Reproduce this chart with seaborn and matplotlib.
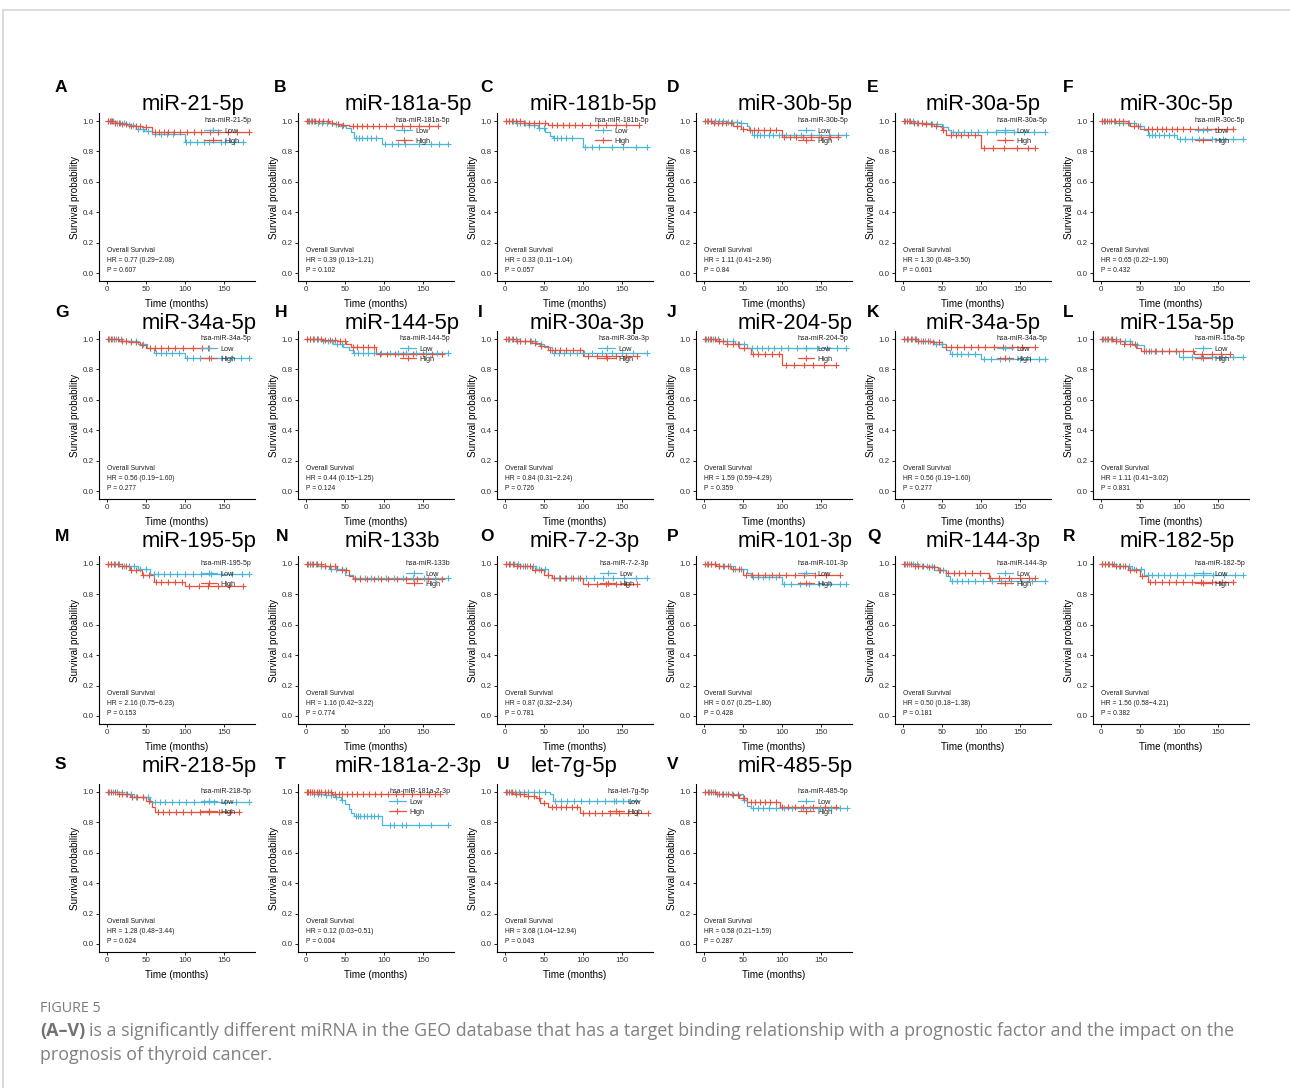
import numpy as np
import pandas as pd
import matplotlib
matplotlib.use("Agg")
import matplotlib.pyplot as plt
from matplotlib.lines import Line2D
import seaborn as sns

sns.set_theme(style="ticks")
plt.rcParams["font.family"] = ["Liberation Sans", "DejaVu Sans"]

# ---- panel content -------------------------------------------------------
panel_letters = list("ABCDEFGHIJKLMNOPQRSTUV")
mirna_titles = ["miR-21-5p", "miR-181a-5p", "miR-181b-5p", "miR-30b-5p", "miR-30a-5p", "miR-30c-5p",
                "miR-34a-5p", "miR-144-5p", "miR-30a-3p", "miR-204-5p", "miR-34a-5p", "miR-15a-5p",
                "miR-195-5p", "miR-133b", "miR-7-2-3p", "miR-101-3p", "miR-144-3p", "miR-182-5p",
                "miR-218-5p", "miR-181a-2-3p", "let-7g-5p", "miR-485-5p"]
legend_titles = ["hsa-miR-21-5p", "hsa-miR-181a-5p", "hsa-miR-181b-5p", "hsa-miR-30b-5p", "hsa-miR-30a-5p",
                 "hsa-miR-30c-5p", "hsa-miR-34a-5p", "hsa-miR-144-5p", "hsa-miR-30a-3p", "hsa-miR-204-5p",
                 "hsa-miR-34a-5p", "hsa-miR-15a-5p", "hsa-miR-195-5p", "hsa-miR-133b", "hsa-miR-7-2-3p",
                 "hsa-miR-101-3p", "hsa-miR-144-3p", "hsa-miR-182-5p", "hsa-miR-218-5p", "hsa-miR-181a-2-3p",
                 "hsa-let-7g-5p", "hsa-miR-485-5p"]
hr_est = ["0.77", "0.39", "0.33", "1.11", "1.30", "0.65", "0.56", "0.44", "0.84", "1.59", "0.56", "1.11",
          "2.16", "1.16", "0.87", "0.67", "0.50", "1.56", "1.28", "0.12", "3.68", "0.58"]
hr_low = ["0.29", "0.13", "0.11", "0.41", "0.48", "0.22", "0.19", "0.15", "0.31", "0.59", "0.19", "0.41",
          "0.75", "0.42", "0.32", "0.25", "0.18", "0.58", "0.48", "0.03", "1.04", "0.21"]
hr_high = ["2.08", "1.21", "1.04", "2.96", "3.50", "1.90", "1.60", "1.25", "2.24", "4.29", "1.60", "3.02",
           "6.23", "3.22", "2.34", "1.80", "1.38", "4.21", "3.44", "0.51", "12.94", "1.59"]
p_values = ["0.607", "0.102", "0.057", "0.84", "0.601", "0.432", "0.277", "0.124", "0.726", "0.359", "0.277",
            "0.831", "0.153", "0.774", "0.781", "0.428", "0.181", "0.382", "0.624", "0.004", "0.043", "0.287"]

# Kaplan-Meier step points (time in months, survival probability)
low_times = [[0, 12, 25, 38, 48, 58, 100, 174], [0, 15, 35, 42, 52, 58, 62, 98, 182],
             [0, 15, 30, 42, 52, 58, 62, 100, 182], [0, 30, 45, 55, 58, 62, 182],
             [0, 15, 35, 50, 58, 62, 182], [0, 20, 45, 55, 60, 98, 182],
             [0, 20, 40, 52, 60, 100, 182], [0, 20, 35, 48, 55, 60, 182],
             [0, 20, 40, 50, 60, 182], [0, 20, 40, 55, 182],
             [0, 20, 40, 55, 60, 100, 182], [0, 20, 40, 55, 100, 182],
             [0, 20, 40, 55, 182], [0, 15, 30, 50, 60, 182],
             [0, 20, 40, 55, 60, 182], [0, 20, 40, 55, 60, 100, 182],
             [0, 20, 40, 55, 60, 182], [0, 20, 40, 55, 182],
             [0, 20, 35, 55, 182], [0, 10, 25, 35, 45, 50, 55, 58, 62, 98, 182],
             [0, 58, 62, 168], [0, 15, 40, 50, 55, 60, 183]]
low_surv = [[1, .99, .975, .95, .935, .915, .86, .86], [1, .99, .98, .97, .955, .93, .89, .85, .85],
            [1, .99, .975, .955, .93, .90, .89, .83, .83], [1, .995, .985, .97, .94, .905, .905],
            [1, .99, .98, .96, .94, .93, .93], [1, .985, .97, .94, .91, .88, .88],
            [1, .99, .97, .94, .91, .875, .875], [1, .99, .97, .95, .93, .91, .91],
            [1, .99, .97, .95, .91, .91], [1, .99, .97, .94, .94],
            [1, .99, .97, .93, .90, .87, .87], [1, .99, .96, .92, .88, .88],
            [1, .99, .97, .935, .935], [1, .99, .97, .93, .91, .91],
            [1, .99, .97, .93, .905, .905], [1, .99, .97, .94, .915, .87, .87],
            [1, .99, .96, .92, .885, .885], [1, .99, .97, .93, .93],
            [1, .99, .97, .935, .935], [1, .99, .98, .97, .95, .92, .89, .86, .84, .78, .78],
            [1, .985, .94, .94], [1, .99, .985, .95, .91, .895, .895]]
high_times = [[0, 8, 18, 30, 45, 58, 182], [0, 30, 38, 48, 56, 170],
              [0, 25, 40, 55, 172], [0, 10, 30, 38, 48, 55, 100, 172],
              [0, 10, 25, 40, 50, 56, 100, 170], [0, 35, 38, 50, 170],
              [0, 15, 30, 42, 50, 130], [0, 20, 40, 52, 58, 90, 175],
              [0, 15, 35, 45, 55, 100, 170], [0, 15, 30, 45, 60, 100, 170],
              [0, 20, 35, 50, 170], [0, 15, 30, 45, 52, 120, 165],
              [0, 15, 30, 45, 60, 100, 175], [0, 20, 40, 55, 60, 175],
              [0, 15, 35, 50, 60, 100, 170], [0, 15, 35, 50, 175],
              [0, 15, 30, 45, 55, 110, 170], [0, 15, 35, 50, 60, 170],
              [0, 15, 30, 50, 58, 62, 170], [0, 33, 172],
              [0, 10, 25, 40, 45, 55, 97, 183], [0, 15, 35, 45, 55, 98, 170]]
high_surv = [[1, .99, .98, .97, .96, .93, .93], [1, .99, .98, .975, .965, .965],
             [1, .99, .985, .975, .975], [1, .99, .985, .97, .95, .94, .895, .895],
             [1, .99, .98, .965, .94, .91, .82, .82], [1, .99, .97, .95, .95],
             [1, .99, .98, .96, .94, .94], [1, .995, .985, .97, .95, .90, .90],
             [1, .99, .975, .955, .93, .89, .89], [1, .99, .97, .94, .90, .83, .83],
             [1, .99, .98, .95, .95], [1, .99, .97, .94, .92, .90, .90],
             [1, .99, .96, .93, .88, .855, .855], [1, .99, .96, .92, .90, .90],
             [1, .99, .96, .93, .91, .87, .87], [1, .99, .97, .93, .93],
             [1, .99, .98, .96, .94, .905, .905], [1, .99, .96, .92, .88, .88],
             [1, .99, .97, .94, .90, .87, .87], [1, .985, .985],
             [1, .99, .975, .96, .93, .90, .863, .863], [1, .99, .98, .96, .937, .90, .90]]

# censoring times (months)
low_censor = [
    [2, 5, 8, 13, 17, 22, 28, 33, 40, 46, 53, 62, 69, 77, 85, 101, 107, 115, 124, 131, 146, 152, 163, 174],
    [3, 7, 11, 16, 21, 27, 33, 39, 46, 64, 68, 72, 78, 83, 90, 101, 110, 118, 127, 145, 160, 171, 182],
    [2, 6, 10, 15, 20, 26, 31, 37, 44, 50, 63, 67, 72, 78, 86, 103, 112, 121, 137, 151, 168, 182],
    [4, 9, 14, 19, 25, 31, 36, 42, 48, 64, 68, 72, 77, 83, 89, 96, 106, 116, 125, 138, 148, 160, 172, 182],
    [3, 8, 13, 18, 24, 30, 37, 44, 51, 64, 71, 79, 88, 97, 108, 120, 131, 142, 155, 168, 182],
    [2, 6, 11, 17, 23, 29, 36, 43, 50, 62, 66, 70, 75, 81, 87, 94, 102, 108, 117, 126, 142, 157, 170, 182],
    [3, 7, 12, 18, 24, 31, 38, 46, 63, 69, 76, 84, 93, 103, 111, 120, 134, 148, 160, 172, 182],
    [2, 6, 11, 16, 22, 28, 33, 40, 46, 62, 67, 73, 80, 88, 97, 108, 118, 129, 141, 154, 168, 182],
    [4, 9, 14, 20, 26, 33, 39, 46, 63, 69, 76, 83, 92, 101, 112, 124, 137, 150, 165, 182],
    [3, 8, 12, 18, 24, 30, 37, 45, 52, 62, 68, 75, 82, 90, 99, 108, 119, 131, 145, 158, 171, 182],
    [2, 7, 12, 17, 23, 29, 35, 43, 50, 63, 69, 75, 83, 92, 104, 113, 124, 136, 150, 163, 175, 182],
    [3, 8, 13, 19, 25, 31, 38, 47, 58, 64, 71, 79, 88, 97, 106, 117, 129, 142, 155, 169, 182],
    [2, 6, 11, 16, 22, 28, 35, 42, 50, 60, 66, 73, 81, 90, 100, 110, 121, 133, 147, 160, 173, 182],
    [3, 8, 13, 19, 25, 32, 39, 46, 63, 69, 76, 84, 93, 103, 113, 124, 137, 151, 166, 182],
    [2, 7, 12, 17, 23, 29, 36, 44, 51, 63, 70, 77, 85, 94, 104, 115, 126, 139, 153, 168, 182],
    [4, 9, 14, 20, 26, 33, 40, 48, 63, 69, 76, 84, 93, 103, 112, 123, 135, 148, 162, 175, 182],
    [3, 8, 13, 18, 24, 31, 38, 46, 52, 63, 69, 76, 84, 93, 103, 114, 126, 139, 152, 166, 182],
    [2, 6, 11, 17, 23, 29, 36, 43, 51, 60, 66, 73, 81, 89, 98, 108, 119, 131, 144, 158, 172, 182],
    [3, 8, 13, 19, 25, 31, 38, 46, 53, 62, 68, 75, 83, 92, 102, 112, 124, 137, 151, 166, 182],
    [2, 6, 10, 15, 20, 26, 32, 39, 47, 64, 67, 70, 74, 78, 83, 88, 93, 108, 113, 123, 129, 145, 160, 182],
    [3, 8, 13, 18, 24, 30, 37, 44, 52, 65, 72, 80, 89, 98, 108, 118, 129, 140, 152, 160, 168],
    [2, 7, 12, 17, 23, 29, 36, 44, 52, 63, 69, 76, 84, 93, 103, 113, 124, 136, 149, 163, 175, 183]]
high_censor = [
    [1, 4, 7, 11, 15, 20, 25, 31, 37, 43, 50, 62, 67, 73, 79, 86, 94, 103, 112, 121, 132, 143, 155, 167, 182],
    [1, 4, 8, 12, 17, 22, 28, 34, 41, 48, 60, 66, 72, 79, 86, 94, 103, 113, 123, 133, 145, 158, 170],
    [2, 5, 9, 14, 19, 25, 31, 37, 44, 51, 60, 67, 74, 82, 90, 99, 109, 119, 130, 142, 155, 172],
    [1, 5, 9, 13, 18, 23, 29, 35, 42, 50, 59, 64, 70, 77, 85, 93, 103, 110, 118, 127, 138, 150, 162, 172],
    [2, 5, 9, 14, 19, 24, 30, 36, 43, 52, 62, 68, 75, 83, 92, 104, 116, 130, 146, 160, 170],
    [1, 4, 8, 13, 18, 23, 29, 35, 42, 48, 60, 66, 72, 78, 84, 91, 98, 105, 114, 124, 136, 150, 162, 170],
    [2, 5, 9, 14, 19, 25, 31, 38, 45, 55, 62, 70, 79, 88, 98, 110, 122, 130],
    [1, 5, 9, 14, 19, 25, 31, 37, 44, 50, 60, 66, 73, 80, 88, 95, 104, 114, 125, 137, 150, 162, 175],
    [2, 6, 10, 15, 20, 26, 32, 39, 47, 58, 64, 71, 79, 88, 97, 107, 118, 130, 143, 156, 170],
    [1, 5, 9, 14, 19, 24, 30, 37, 44, 52, 63, 70, 78, 87, 96, 106, 116, 128, 140, 154, 170],
    [2, 6, 10, 15, 20, 26, 32, 39, 46, 55, 62, 70, 78, 87, 96, 106, 117, 128, 140, 153, 170],
    [1, 5, 9, 14, 19, 24, 30, 37, 44, 55, 62, 70, 78, 87, 96, 106, 118, 130, 142, 154, 165],
    [2, 5, 9, 14, 19, 25, 31, 38, 46, 54, 63, 70, 78, 87, 96, 106, 118, 130, 143, 157, 175],
    [1, 5, 9, 14, 19, 25, 31, 38, 46, 52, 63, 70, 78, 87, 96, 106, 117, 129, 142, 157, 175],
    [2, 6, 10, 15, 20, 26, 32, 39, 46, 55, 63, 71, 79, 88, 97, 107, 118, 130, 143, 156, 170],
    [1, 5, 9, 14, 19, 25, 31, 38, 45, 54, 62, 70, 78, 87, 96, 106, 117, 129, 142, 157, 175],
    [2, 6, 10, 15, 20, 26, 33, 40, 48, 58, 65, 72, 80, 89, 99, 112, 123, 136, 150, 162, 170],
    [1, 5, 9, 14, 19, 25, 31, 38, 45, 53, 63, 70, 78, 87, 96, 106, 117, 129, 142, 156, 170],
    [2, 6, 10, 15, 20, 26, 32, 39, 46, 54, 65, 72, 80, 89, 98, 108, 119, 131, 144, 158, 170],
    [1, 3, 5, 8, 11, 14, 17, 20, 24, 28, 32, 37, 42, 47, 53, 59, 66, 73, 81, 89, 97, 106, 115, 125, 136,
     147, 158, 166, 172],
    [1, 5, 9, 14, 19, 24, 30, 37, 44, 50, 60, 66, 72, 79, 86, 93, 100, 108, 116, 125, 135, 146, 158, 170, 183],
    [1, 5, 9, 14, 19, 25, 31, 37, 44, 51, 60, 66, 72, 78, 85, 92, 100, 108, 117, 127, 140, 155, 170]]

LOW_COLOR = "#4DB6D6"
HIGH_COLOR = "#E8533F"

# ---- figure geometry (pixels) -------------------------------------------
W, H = 1290, 1088
fig = plt.figure(figsize=(W / 100, H / 100), dpi=100)

col_left = [99, 298, 497, 696, 895, 1093]
ax_width = 156
row_top = [113.4, 331.4, 556.4, 784.4]
row_height = 167.2
title_x = [[142, 345, 530, 738, 926, 1120], [142, 345, 530, 738, 926, 1120],
           [142, 345, 530, 738, 926, 1120], [142, 335, 530, 738]]
title_base = [110, 329, 547, 772]
letter_x = [[55, 274, 480, 667, 867, 1063], [55, 275, 478, 667, 867, 1063],
            [55, 276, 480, 667, 867, 1063], [55, 275, 497, 667]]
letter_base = [92, 317, 541, 769]


def fx(px):
    return px / W


def fy(py):
    return 1 - py / H


def step_value(times, surv, t):
    idx = np.searchsorted(np.asarray(times), t, side="right") - 1
    return np.asarray(surv)[np.clip(idx, 0, len(surv) - 1)]


for i in range(len(mirna_titles)):
    r, c = divmod(i, 6)
    ax = fig.add_axes([fx(col_left[c]), fy(row_top[r] + row_height), fx(ax_width), row_height / H])

    for times, surv, cens, color in [
        (low_times[i], low_surv[i], low_censor[i], LOW_COLOR),
        (high_times[i], high_surv[i], high_censor[i], HIGH_COLOR),
    ]:
        curve = pd.DataFrame({"t": times, "s": surv})
        sns.lineplot(data=curve, x="t", y="s", ax=ax, color=color, lw=0.9,
                     drawstyle="steps-post", estimator=None, sort=False)
        marks = pd.DataFrame({"t": cens, "s": step_value(times, surv, np.asarray(cens))})
        sns.scatterplot(data=marks, x="t", y="s", ax=ax, color=color, marker="+",
                        s=24, linewidth=0.8, zorder=3)

    ax.set_xlim(-10, 190)
    ax.set_ylim(-0.05, 1.05)
    ax.set_xticks([0, 50, 100, 150])
    ax.set_yticks([0.0, 0.2, 0.4, 0.6, 0.8, 1.0])
    ax.set_yticklabels(["0.0", "0.2", "0.4", "0.6", "0.8", "1.0"])
    ax.tick_params(labelsize=5.8, length=2.5, width=0.6, pad=1.5, colors="#333333")
    ax.tick_params(color="black")
    for side in ["top", "right"]:
        ax.spines[side].set_visible(False)
    for side in ["left", "bottom"]:
        ax.spines[side].set_linewidth(0.8)
        ax.spines[side].set_color("black")
    ax.set_xlabel("Time (months)", fontsize=7.1, labelpad=4, color="black")
    ax.set_ylabel("Survival probability", fontsize=7.1, labelpad=2, color="black")

    ax.text(0, 0.147, "Overall Survival", fontsize=4.9, va="center", ha="left", color="#222222")
    ax.text(0, 0.080, f"HR = {hr_est[i]} ({hr_low[i]}\u2212{hr_high[i]})", fontsize=4.9,
            va="center", ha="left", color="#222222")
    ax.text(0, 0.015, f"P = {p_values[i]}", fontsize=4.9, va="center", ha="left", color="#222222")

    handles = [Line2D([], [], color=LOW_COLOR, lw=0.9, marker="+", ms=5, mew=0.8),
               Line2D([], [], color=HIGH_COLOR, lw=0.9, marker="+", ms=5, mew=0.8)]
    leg = ax.legend(handles, ["Low", "High"], title=legend_titles[i], loc="upper right",
                    bbox_to_anchor=(1.0, 1.0), frameon=False, fontsize=5.3, title_fontsize=5.0,
                    handlelength=2.2, handletextpad=0.5, labelspacing=0.45, borderpad=0,
                    alignment="left")
    leg.get_title().set_color("#222222")

    fig.text(fx(title_x[r][c]), fy(title_base[r]), mirna_titles[i], fontsize=15.8,
             ha="left", va="baseline", color="black")
    fig.text(fx(letter_x[r][c]), fy(letter_base[r]), panel_letters[i], fontsize=12.5,
             fontweight="bold", ha="left", va="baseline", color="black")

# page frame lines
fig.add_artist(Line2D([fx(3), 1], [fy(10), fy(10)], color="#d6d6d6", lw=1.2))
fig.add_artist(Line2D([fx(3), fx(3)], [fy(10), 0], color="#d6d6d6", lw=1.2))

# caption
cap_font = ["Open Sans", "DejaVu Sans"]
fig.text(fx(40), fy(1008), "FIGURE 5", fontsize=10.3, color="#7a7a7a", family=cap_font,
         ha="left", va="center")
bold_part = fig.text(fx(40), fy(1031), "(A\u2013V)", fontsize=12.9, color="#727272", family=cap_font,
                     fontweight="bold", ha="left", va="center")
fig.canvas.draw()
bb = bold_part.get_window_extent()
fig.text((bb.x1 + 4) / W, fy(1031),
         "is a significantly different miRNA in the GEO database that has a target binding "
         "relationship with a prognostic factor and the impact on the",
         fontsize=12.85, color="#808080", family=cap_font, ha="left", va="center")
fig.text(fx(40), fy(1055), "prognosis of thyroid cancer.", fontsize=12.85, color="#808080",
         family=cap_font, ha="left", va="center")

fig.savefig("out.png", dpi=100, facecolor="white")
